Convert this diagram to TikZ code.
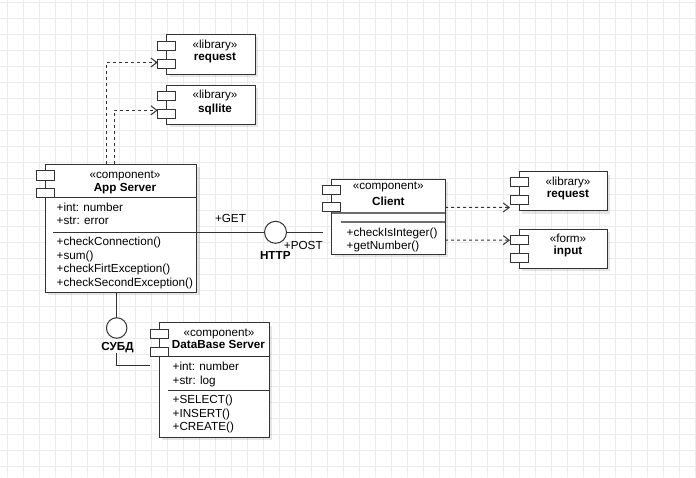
\documentclass[tikz,border=0pt]{standalone}
\usepackage{fontspec}
\setmainfont{Liberation Sans}
\usetikzlibrary{arrows.meta,shadows}

\definecolor{linec}{HTML}{333333}
\definecolor{gridc}{HTML}{EBEBEB}
\definecolor{sepc}{HTML}{6E6E6E}

\begin{document}
\begin{tikzpicture}[x=1pt,y=-1pt,
  every node/.style={inner sep=0pt,outer sep=0pt},
  txt/.style={font=\fontsize{11.7}{13}\selectfont,anchor=base},
  ltxt/.style={txt,anchor=base west},
  btxt/.style={txt,font=\fontsize{11.7}{13}\selectfont\bfseries},
  comp/.style={draw=linec,fill=white,line width=1pt,anchor=north west,
    drop shadow={shadow xshift=3pt,shadow yshift=-3pt,fill=black,opacity=0.10}},
  port/.style={draw=linec,fill=white,line width=1pt,anchor=north west,
    minimum width=18pt,minimum height=9pt},
  iface/.style={draw=linec,fill=white,line width=1pt,circle},
  wire/.style={draw=linec,line width=1pt},
  sep/.style={draw=linec,line width=1pt},
  thicksep/.style={draw=sepc,line width=1.8pt},
  dep/.style={draw=linec,line width=1pt,dash pattern=on 3pt off 3pt,
    -{Straight Barb[length=6pt,width=9pt,line width=1pt]}},
  gridline/.style={draw=gridc,line width=1pt}
]
\useasboundingbox (0,0) rectangle (696,477);
\fill[white] (0,0) rectangle (696,477);

% background grid
\foreach \i in {0,...,43} \draw[gridline] (7.3+16*\i,0) -- (7.3+16*\i,477);
\foreach \j in {0,...,29} \draw[gridline] (0,2+16*\j) -- (696,2+16*\j);

% ---- library: request (top) ----
\node[comp,minimum width=88.3pt,minimum height=39.7pt] (lreq) at (166.7,34.3) {};
\node[port] (lreq-p1) at (157.7,41.7) {};
\node[port] (lreq-p2) at (157.7,59.3) {};
\node[txt] (lreq-s) at (215,48.3) {«library»};
\node[btxt] (lreq-n) at (215,60.7) {request};

% ---- library: sqllite ----
\node[comp,minimum width=88.3pt,minimum height=39.3pt] (lsql) at (166.7,85) {};
\node[port] (lsql-p1) at (157.7,91.7) {};
\node[port] (lsql-p2) at (157.7,109.3) {};
\node[txt] (lsql-s) at (215,98) {«library»};
\node[btxt] (lsql-n) at (215,112.3) {sqllite};

% ---- component: App Server ----
\node[comp,minimum width=151.7pt,minimum height=127.7pt] (app) at (45,164.3) {};
\node[port,minimum height=10pt] (app-p1) at (36,170) {};
\node[port] (app-p2) at (36,188.5) {};
\draw[sep] (app.north west |- 0,197.7) -- (app.north east |- 0,197.7);
\draw[sep] (53,232.7) -- (app.north east |- 0,232.7);
\node[txt] (app-s) at (125,178) {«component»};
\node[btxt] (app-n) at (125,191) {App Server};
\node[ltxt] at (56.7,211) {+int: number};
\node[ltxt] at (56.7,224.7) {+str: error};
\node[ltxt] at (56.7,245.5) {+checkConnection()};
\node[ltxt] at (56.7,259) {+sum()};
\node[ltxt] at (56.7,272.5) {+checkFirtException()};
\node[ltxt] at (56.7,286) {+checkSecondException()};

% ---- component: Client ----
\node[comp,minimum width=113.3pt,minimum height=75.3pt] (client) at (331.7,179) {};
\node[port] (client-p1) at (322.7,185) {};
\node[port] (client-p2) at (322.7,202.7) {};
\draw[thicksep] (client.north west |- 0,212.7) -- (client.north east |- 0,212.7);
\draw[thicksep] (340.7,221.8) -- (client.north east |- 0,221.8);
\node[txt] (client-s) at (388.3,189.7) {«component»};
\node[btxt] (client-n) at (388.3,205) {Client};
\node[ltxt] at (346.7,236.3) {+checkIsInteger()};
\node[ltxt] at (346.7,249) {+getNumber()};

% ---- library: request (right) ----
\node[comp,minimum width=88.3pt,minimum height=39pt] (rreq) at (519,171.7) {};
\node[port] (rreq-p1) at (510,177.7) {};
\node[port] (rreq-p2) at (510,195.5) {};
\node[txt] (rreq-s) at (568,185) {«library»};
\node[btxt] (rreq-n) at (568,197.3) {request};

% ---- form: input ----
\node[comp,minimum width=88.3pt,minimum height=39.3pt] (inp) at (519,229) {};
\node[port] (inp-p1) at (510,235.7) {};
\node[port] (inp-p2) at (510,253.5) {};
\node[txt] (inp-s) at (568,242.3) {«form»};
\node[btxt] (inp-n) at (568,254.7) {input};

% ---- component: DataBase Server ----
\node[comp,minimum width=110.3pt,minimum height=114.6pt] (db) at (159,322.7) {};
\node[port] (db-p1) at (150,329.3) {};
\node[port,minimum height=9.4pt] (db-p2) at (150,347.3) {};
\draw[sep] (db.north west |- 0,356.7) -- (db.north east |- 0,356.7);
\draw[sep] (167.5,390) -- (db.north east |- 0,390);
\node[txt] (db-s) at (219,336.3) {«component»};
\node[btxt] (db-n) at (218.5,348.3) {DataBase Server};
\node[ltxt] at (172.7,370.7) {+int: number};
\node[ltxt] at (172.7,384) {+str: log};
\node[ltxt] at (172.7,403.3) {+SELECT()};
\node[ltxt] at (172.7,417.3) {+INSERT()};
\node[ltxt] at (172.7,430.5) {+CREATE()};

% ---- dependencies ----
\draw[dep] ([xshift=61.7pt]app.north west) |- ([yshift=1.3pt]lreq-p2.west);
\draw[dep] ([xshift=69.3pt]app.north west) |- ([yshift=3.5pt]lsql-p2.west);
\draw[dep] ([yshift=-28.3pt]client.north east) -- ([yshift=-3pt]rreq-p2.south west);
\draw[dep] ([yshift=-61pt]client.north east) -- (inp-p1.west);

% ---- HTTP interface ----
\node[iface,minimum size=22pt] (http) at (275.5,232.3) {};
\draw[wire] ([yshift=-68pt]app.north east) -- (http.west);
\draw[wire] (http.east) -- (http.east -| client-p1.west);
\node[txt] (get) at (230.5,222.3) {+GET};
\node[txt] (post) at (303.3,249) {+POST};
\node[btxt] (httpl) at (275.3,259) {HTTP};

% ---- DBMS interface ----
\node[iface,minimum size=20.5pt] (dbi) at (116.7,328) {};
\draw[wire] (dbi.north |- app.south) -- (dbi.north);
\node[btxt] (subd) at (117.5,350.7) {СУБД};
\draw[wire] (dbi.south |- subd.south) |- ([yshift=-9pt]db-p2.south west);
\end{tikzpicture}
\end{document}
